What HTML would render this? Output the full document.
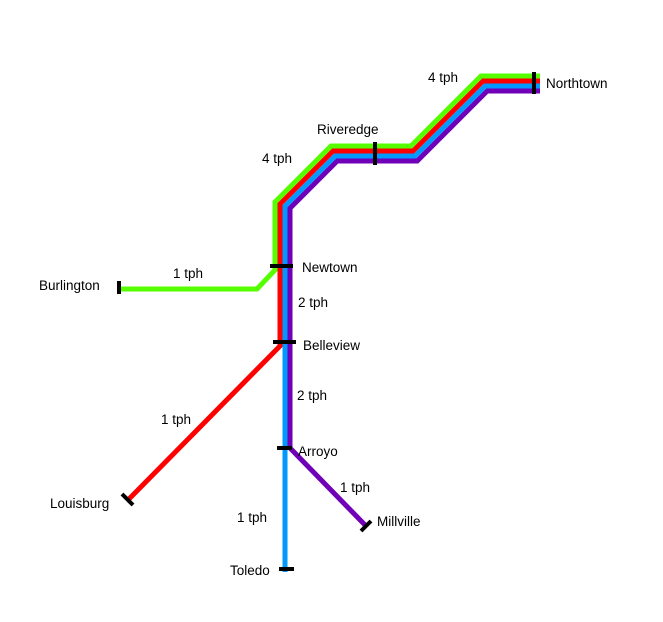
<!DOCTYPE html>
<html><head><meta charset="utf-8"><style>
html,body{margin:0;padding:0;background:#fff;}
svg{display:block;}
text{font-family:"Liberation Sans",sans-serif;font-size:13.5px;fill:#000;}
</style></head><body>
<svg width="663" height="622" viewBox="0 0 663 622" xmlns="http://www.w3.org/2000/svg">
<g fill="none" stroke-width="5" stroke-linejoin="miter">
<!-- purple d=15 -->
<polyline stroke="#7000b8" points="290,448 290,208.2 337.2,161 417.2,161 487.2,91 540,91"/>
<polyline stroke="#7000b8" points="290,448 366,526"/>
<!-- blue d=10 -->
<polyline stroke="#0099ff" points="285,572 285,206.1 335.1,156 415.1,156 485.1,86 540,86"/>
<!-- red d=5 -->
<polyline stroke="#ff0000" points="127,501 280,346 280,204 333,151 413,151 483,81 540,81"/>
<!-- green -->
<polyline stroke="#55ff00" points="117,289 257,289 275,270 275,202 331,146 411,146 481,76 540,76"/>
</g>
<g stroke="#000" stroke-width="4">
<line x1="534" y1="72" x2="534" y2="94"/>
<line x1="375" y1="142" x2="375" y2="165"/>
<line x1="270" y1="266" x2="293" y2="266"/>
<line x1="273" y1="342" x2="296" y2="342"/>
<line x1="277" y1="448" x2="292" y2="448"/>
<line x1="279" y1="569" x2="294" y2="569"/>
<line x1="119" y1="281" x2="119" y2="294"/>
<line x1="122" y1="494" x2="133" y2="505"/>
<line x1="361" y1="531" x2="371" y2="521"/>
</g>
<text x="428" y="82">4 tph</text>
<text x="546" y="88">Northtown</text>
<text x="317" y="134">Riveredge</text>
<text x="262" y="163">4 tph</text>
<text x="302" y="272">Newtown</text>
<text x="173" y="278">1 tph</text>
<text x="39" y="290">Burlington</text>
<text x="298" y="307">2 tph</text>
<text x="303" y="350">Belleview</text>
<text x="297" y="400">2 tph</text>
<text x="161" y="424">1 tph</text>
<text x="298" y="456">Arroyo</text>
<text x="340" y="492">1 tph</text>
<text x="50" y="508">Louisburg</text>
<text x="237" y="522">1 tph</text>
<text x="377" y="526">Millville</text>
<text x="230" y="575">Toledo</text>
</svg>
</body></html>
